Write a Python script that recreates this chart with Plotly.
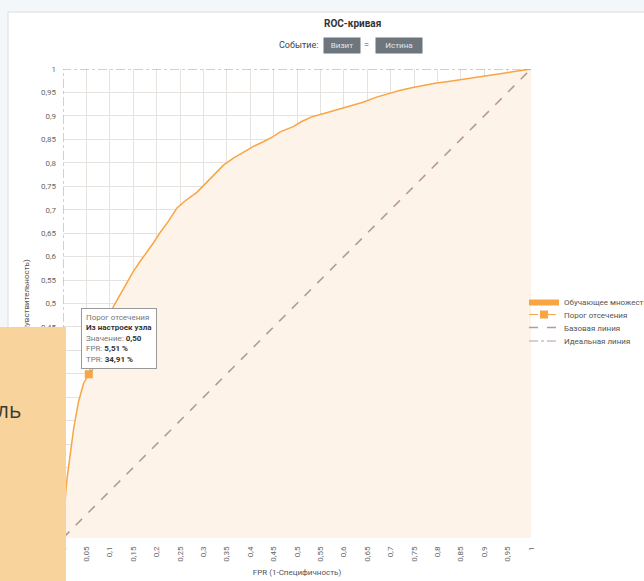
import plotly.graph_objects as go

# ROC curve (training set)
fpr = [0, 0.002, 0.006, 0.009, 0.016, 0.023, 0.033, 0.044, 0.0551, 0.065, 0.075, 0.087,
       0.1, 0.108, 0.12, 0.137, 0.15, 0.165, 0.18, 0.193, 0.208, 0.225, 0.243, 0.26,
       0.286, 0.31, 0.343, 0.364, 0.385, 0.407, 0.43, 0.449, 0.464, 0.492, 0.51, 0.531,
       0.55, 0.575, 0.599, 0.62, 0.641, 0.67, 0.69, 0.719, 0.75, 0.775, 0.798, 0.82,
       0.847, 0.87, 0.893, 0.918, 0.947, 0.97, 1.0]
tpr = [0, 0.04, 0.10, 0.13, 0.185, 0.235, 0.29, 0.33, 0.3491, 0.385, 0.415, 0.445,
       0.475, 0.494, 0.515, 0.544, 0.568, 0.59, 0.61, 0.629, 0.652, 0.675, 0.703, 0.718,
       0.737, 0.762, 0.795, 0.81, 0.822, 0.835, 0.846, 0.856, 0.866, 0.877, 0.888, 0.898,
       0.903, 0.91, 0.917, 0.923, 0.929, 0.94, 0.946, 0.954, 0.961, 0.966, 0.97, 0.973,
       0.977, 0.981, 0.984, 0.987, 0.992, 0.995, 1.0]

threshold_fpr = [0.0551]
threshold_tpr = [0.3491]

base_x = [0, 1]
base_y = [0, 1]
ideal_x = [0, 0, 1]
ideal_y = [0, 1, 1]

ORANGE = "#f8a544"
BROWN = "#b69c8c"
FONT = "Roboto"

fig = go.Figure()
fig.add_trace(go.Scatter(x=fpr, y=tpr, mode="lines", fill="tozeroy",
                         fillcolor="#fdf3e8", line=dict(color=ORANGE, width=1.5),
                         showlegend=False, hoverinfo="skip"))
fig.add_trace(go.Scatter(x=[None], y=[None], mode="lines", fill="toself",
                         fillcolor=ORANGE, line=dict(color=ORANGE, width=0),
                         name="Обучающее множество", legend="legend"))
fig.add_trace(go.Scatter(x=base_x, y=base_y, mode="lines",
                         line=dict(color=BROWN, width=1.6, dash="dash"),
                         name="Базовая линия", cliponaxis=False, legend="legend3"))
fig.add_trace(go.Scatter(x=ideal_x, y=ideal_y, mode="lines",
                         line=dict(color=BROWN, width=1, dash="dashdot"),
                         name="Идеальная линия", cliponaxis=False, legend="legend4"))
fig.add_trace(go.Scatter(x=threshold_fpr, y=threshold_tpr, mode="lines+markers",
                         marker=dict(symbol="square", size=8, color=ORANGE),
                         line=dict(color=ORANGE, width=1, dash="dash"),
                         name="Порог отсечения", cliponaxis=False, legend="legend2"))

axis_common = dict(range=[0, 1], tick0=0, dtick=0.05, showgrid=True,
                   gridcolor="#e6e2df", gridwidth=1, zeroline=False, showline=False,
                   ticks="", tickfont=dict(size=8, color="#666", family=FONT),
                   ticklabelstandoff=6, fixedrange=True)


def leg(yc):
    return dict(x=0.985, y=(538 - yc) / 469, xanchor="left", yanchor="middle",
                bgcolor="rgba(0,0,0,0)", font=dict(size=8, color="#555", family=FONT),
                itemwidth=30, tracegroupgap=0)


fig.update_layout(
    width=644, height=581,
    margin=dict(l=63, r=113, t=69, b=43, pad=0, autoexpand=False),
    paper_bgcolor="white", plot_bgcolor="white",
    separators=", ",
    font=dict(family=FONT, size=8, color="#555"),
    xaxis=dict(**axis_common, tickangle=-90,
               title=dict(text="FPR (1-Специфичность)", font=dict(size=8, color="#555"), standoff=8)),
    yaxis=dict(**axis_common),
    legend=leg(301.5),
    legend2=leg(314.5),
    legend3=leg(327.5),
    legend4=leg(341),
    showlegend=True,
)

# page background strips and card border (outside the plot area)
fig.add_shape(type="rect", xref="paper", yref="paper", x0=-0.2, x1=-0.1175, y0=-0.2, y1=1.2,
              line=dict(width=0), fillcolor="#f4f7fa", layer="below")
fig.add_shape(type="rect", xref="paper", yref="paper", x0=-0.2, x1=1.5, y0=1.1215, y1=1.2,
              line=dict(width=0), fillcolor="#f4f7fa", layer="below")
fig.add_shape(type="line", xref="paper", yref="paper", x0=-0.1175, x1=-0.1175, y0=-0.2, y1=1.1215,
              line=dict(color="#dcdcdc", width=1), layer="below")
fig.add_shape(type="line", xref="paper", yref="paper", x0=-0.1175, x1=1.5, y0=1.1215, y1=1.1215,
              line=dict(color="#dcdcdc", width=1), layer="below")


def px(xp):
    return (xp - 63) / 468


anns = []
anns.append(dict(text="<b>ROC-кривая</b>", xref="paper", yref="paper", x=px(352), y=1.098,
                 xanchor="center", yanchor="middle", showarrow=False, font=dict(size=10, color="#333")))
anns.append(dict(text="Событие:", xref="paper", yref="paper", x=px(320), y=1.051, xanchor="right",
                 yanchor="middle", showarrow=False, font=dict(size=9, color="#444")))
anns.append(dict(text="Визит", xref="paper", yref="paper", x=px(341.5), y=1.051,
                 xanchor="center", yanchor="middle", showarrow=False, bgcolor="#6d757d",
                 borderpad=3, width=30, font=dict(size=8, color="#e6e6e6")))
anns.append(dict(text="=", xref="paper", yref="paper", x=px(366.5), y=1.051,
                 xanchor="center", yanchor="middle", showarrow=False, font=dict(size=9, color="#444")))
anns.append(dict(text="Истина", xref="paper", yref="paper", x=px(398.5), y=1.051,
                 xanchor="center", yanchor="middle", showarrow=False, bgcolor="#6d757d",
                 borderpad=3, width=40, font=dict(size=8, color="#e6e6e6")))
# y-axis title (partly hidden by the overlapping panel below)
anns.append(dict(text="TPR (Чувствительность)", xref="paper", yref="paper", x=px(27), y=0.497,
                 xanchor="center", yanchor="middle", textangle=-90, showarrow=False,
                 font=dict(size=8, color="#555")))
anns.append(dict(text=("<span style='color:#777'>Порог отсечения</span><br>"
                       "<b>Из настроек узла</b><br>"
                       "<span style='color:#777'>Значение:</span> <b>0,50</b><br>"
                       "<span style='color:#777'>FPR:</span> <b>5,51 %</b><br>"
                       "<span style='color:#777'>TPR:</span> <b>34,91 %</b>"),
                 x=threshold_fpr[0], y=threshold_tpr[0], xref="x", yref="y",
                 ax=30, ay=-36, showarrow=True, arrowhead=0, arrowwidth=1,
                 arrowcolor="#999", standoff=3, align="left",
                 bgcolor="white", bordercolor="#999", borderwidth=1, borderpad=4,
                 font=dict(size=8, color="#333")))
# overlapping orange panel
anns.append(dict(text=" ", xref="paper", yref="paper", x=-0.1346, y=0.45,
                 xanchor="left", yanchor="top", width=66, height=260,
                 bgcolor="#f8d49c", borderpad=0, borderwidth=0, showarrow=False))
anns.append(dict(text="ль", xref="paper", yref="paper", x=-0.0855, y=0.273,
                 xanchor="right", yanchor="middle", showarrow=False,
                 font=dict(size=21, color="#3a3a3a", family="Open Sans")))
fig.update_layout(annotations=anns)

fig.write_html("out.html", config={"displayModeBar": False},
               post_script="document.body.style.margin='0px';")
